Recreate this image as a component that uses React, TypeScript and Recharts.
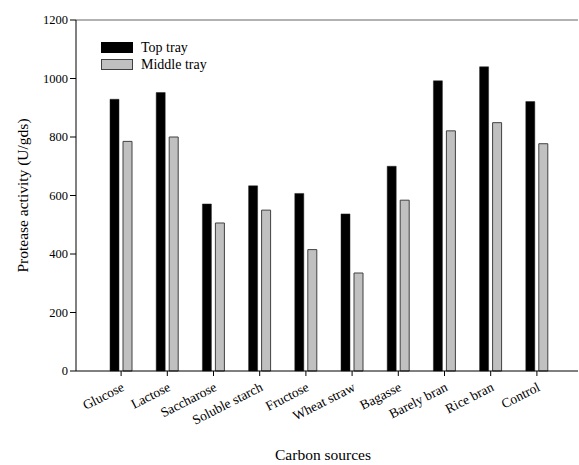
import React from 'react';
import { BarChart, Bar, XAxis, YAxis, Legend, ReferenceLine, Label } from 'recharts';

const categories = ['Glucose', 'Lactose', 'Saccharose', 'Soluble starch', 'Fructose', 'Wheat straw', 'Bagasse', 'Barely bran', 'Rice bran', 'Control'];
const topTray = [929, 952, 571, 633, 607, 537, 700, 992, 1040, 921];
const middleTray = [785, 800, 506, 550, 415, 335, 584, 821, 849, 777];
const yTicks = [0, 200, 400, 600, 800, 1000, 1200];

const data = categories.map((name, i) => ({ name, top: topTray[i], middle: middleTray[i] }));

const FONT = '"Liberation Serif", "Times New Roman", serif';

const XTick = (props: any) => {
  const { x, y, payload } = props;
  return (
    <g transform={`translate(${x + 4},${y + 12})`}>
      <text x={0} y={0} textAnchor="end" transform="rotate(-27)" fontSize={13.5} fontFamily={FONT} fill="#000">
        {payload.value}
      </text>
    </g>
  );
};

const LegendContent = () => {
  const items = [
    { label: 'Top tray', fill: '#000', stroke: '#000' },
    { label: 'Middle tray', fill: '#c0c0c0', stroke: '#404040' },
  ];
  return (
    <div style={{ fontFamily: FONT, fontSize: 14, color: '#000' }}>
      {items.map((it) => (
        <div key={it.label} style={{ display: 'flex', alignItems: 'center', height: 17 }}>
          <span style={{ display: 'inline-block', boxSizing: 'border-box', width: 32, height: 11, background: it.fill, border: `1px solid ${it.stroke}` }} />
          <span style={{ marginLeft: 8, lineHeight: '17px', fontFamily: FONT }}>{it.label}</span>
        </div>
      ))}
    </div>
  );
};

export default function App() {
  return (
    <div style={{ position: 'absolute', left: 0, top: 0, background: '#fff', fontFamily: FONT }}>
      <style>{`.recharts-wrapper text, .recharts-legend-wrapper, .recharts-legend-wrapper span { font-family: "Liberation Serif", "Times New Roman", serif !important; }`}</style>
      <BarChart width={579} height={465} data={data} margin={{ top: 20, right: 1, left: 0, bottom: 0 }} barSize={9} barGap={4} style={{ fontFamily: FONT }}>
        <ReferenceLine y={1200} stroke="#666" strokeWidth={1} />
        <XAxis
          dataKey="name"
          height={94}
          interval={0}
          padding={{ left: 22, right: 18 }}
          axisLine={{ stroke: '#000' }}
          tickLine={{ stroke: '#000' }}
          tickSize={5}
          tick={<XTick />}
        >
          <Label
            content={(p: any) => {
              const vb = p.viewBox;
              return (
                <text x={vb.x + vb.width / 2 - 4} y={vb.y + 89} textAnchor="middle" fontSize={15.5} fontFamily={FONT} fill="#000">
                  Carbon sources
                </text>
              );
            }}
          />
        </XAxis>
        <YAxis
          width={76}
          domain={[0, 1200]}
          ticks={yTicks}
          interval={0}
          axisLine={{ stroke: '#000' }}
          tickLine={{ stroke: '#000' }}
          tickSize={6}
          tickMargin={2}
          tick={{ fontSize: 12.5, fontFamily: FONT, fill: '#000' }}
        >
          <Label
            content={(p: any) => {
              const vb = p.viewBox;
              const cx = vb.x + 22;
              const cy = vb.y + vb.height / 2;
              return (
                <text x={cx} y={cy} textAnchor="middle" dominantBaseline="central" transform={`rotate(-90, ${cx}, ${cy})`} fontSize={15.5} fontFamily={FONT} fill="#000">
                  Protease activity (U/gds)
                </text>
              );
            }}
          />
        </YAxis>
        <Legend
          layout="vertical"
          align="center"
          verticalAlign="middle"
          wrapperStyle={{ left: 101, top: 39, width: 'auto', height: 'auto' }}
          content={<LegendContent />}
        />
        <Bar dataKey="top" name="Top tray" fill="#000" stroke="#222" strokeWidth={0.5} isAnimationActive={false} />
        <Bar dataKey="middle" name="Middle tray" fill="#c0c0c0" stroke="#404040" strokeWidth={1} isAnimationActive={false} />
      </BarChart>
    </div>
  );
}
